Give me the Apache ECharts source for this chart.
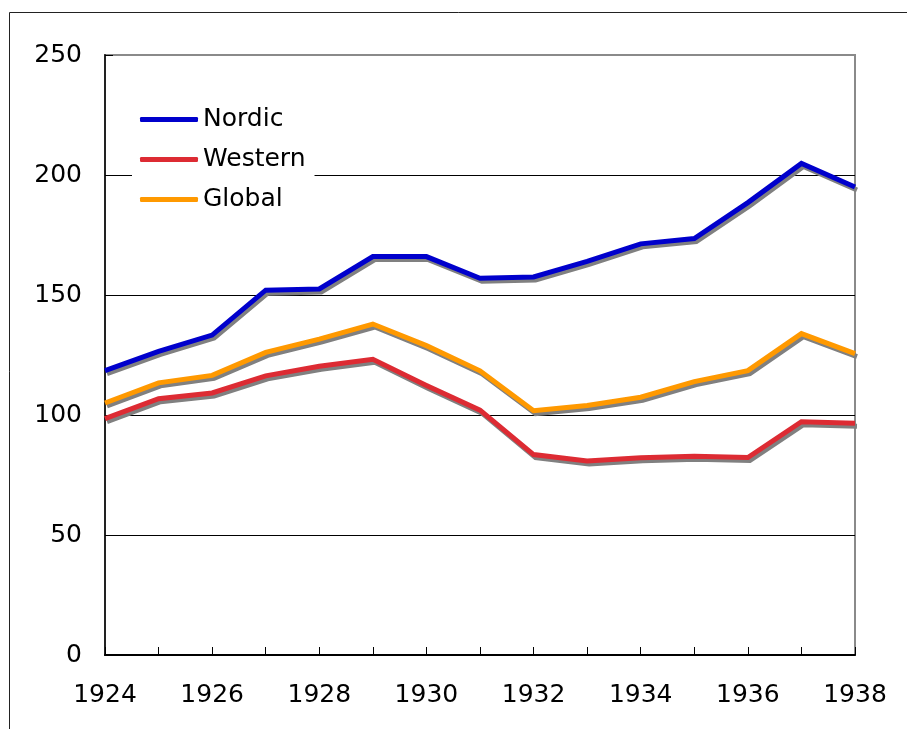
<!DOCTYPE html>
<html><head><meta charset="utf-8">
<script src="https://cdn.jsdelivr.net/npm/echarts@6/dist/echarts.min.js"></script>
<style>html,body{margin:0;padding:0;background:#fff}#c{width:907px;height:729px}</style>
</head><body><div id="c"></div>
<script>
const years = ['1924','1925','1926','1927','1928','1929','1930','1931','1932','1933','1934','1935','1936','1937','1938'];
const nordic  = [118.5,126.5,133.3,152,152.5,166,166,157,157.5,164,171.3,173.5,188.5,204.8,195];
const western = [98.5,106.8,109.2,116.3,120.3,123.2,112.3,102,83.5,80.8,82.2,82.8,82.3,97.2,96.6];
const global_ = [105,113.4,116.5,126.1,131.6,137.9,128.9,118.4,101.8,104,107.4,113.9,118.5,133.9,125.6];
const yTicks = [0,50,100,150,200,250];

const chart = echarts.init(document.getElementById('c'), null, {renderer:'canvas'});
const FONT = 'DejaVu Sans';
function ser(name, data, color){
  return {name, type:'line', data, symbol:'none', smooth:false,
    lineStyle:{color, width:5, cap:'butt', join:'miter', shadowColor:'#808080', shadowBlur:0, shadowOffsetX:2, shadowOffsetY:3},
    itemStyle:{color}, z:3};
}
chart.setOption({
  animation:false,
  backgroundColor:'#fff',
  graphic:[{type:'rect', shape:{x:9.5,y:12.5,width:1000,height:1000}, style:{fill:null, stroke:'#222', lineWidth:1}, silent:true, z:-10}],
  grid:{left:105, top:55, width:750, height:600, show:true, borderColor:'#8a8a8a', borderWidth:2, backgroundColor:'transparent'},
  legend:{orient:'vertical', left:132, top:101, padding:[6,9,6,8], backgroundColor:'#fff', itemGap:15,
    itemWidth:58, itemHeight:5, icon:'roundRect',
    textStyle:{fontFamily:FONT, fontSize:25, color:'#000'},
    data:['Nordic','Western','Global']},
  xAxis:{type:'category', data:years, boundaryGap:false,
    axisLine:{show:true, lineStyle:{color:'#000', width:2}},
    axisTick:{show:true, inside:true, length:8, interval:0, lineStyle:{color:'#000'}},
    axisLabel:{interval:1, margin:28, fontFamily:FONT, fontSize:25, color:'#000'},
    splitLine:{show:false}},
  yAxis:{type:'value', min:0, max:250, interval:50,
    axisLine:{show:true, lineStyle:{color:'#222', width:2}},
    axisTick:{show:true, inside:true, length:8, lineStyle:{color:'#000'}},
    axisLabel:{margin:23, fontFamily:FONT, fontSize:25, color:'#000',
      formatter:v=>yTicks.includes(v)?String(v):''},
    splitLine:{show:true, lineStyle:{color:['#000','#000','#000','#000','#000','#8a8a8a'], width:1}}},
  series:[ser('Nordic',nordic,'#0000CC'), ser('Western',western,'#DD2B33'), ser('Global',global_,'#FF9900')]
});
</script></body></html>
